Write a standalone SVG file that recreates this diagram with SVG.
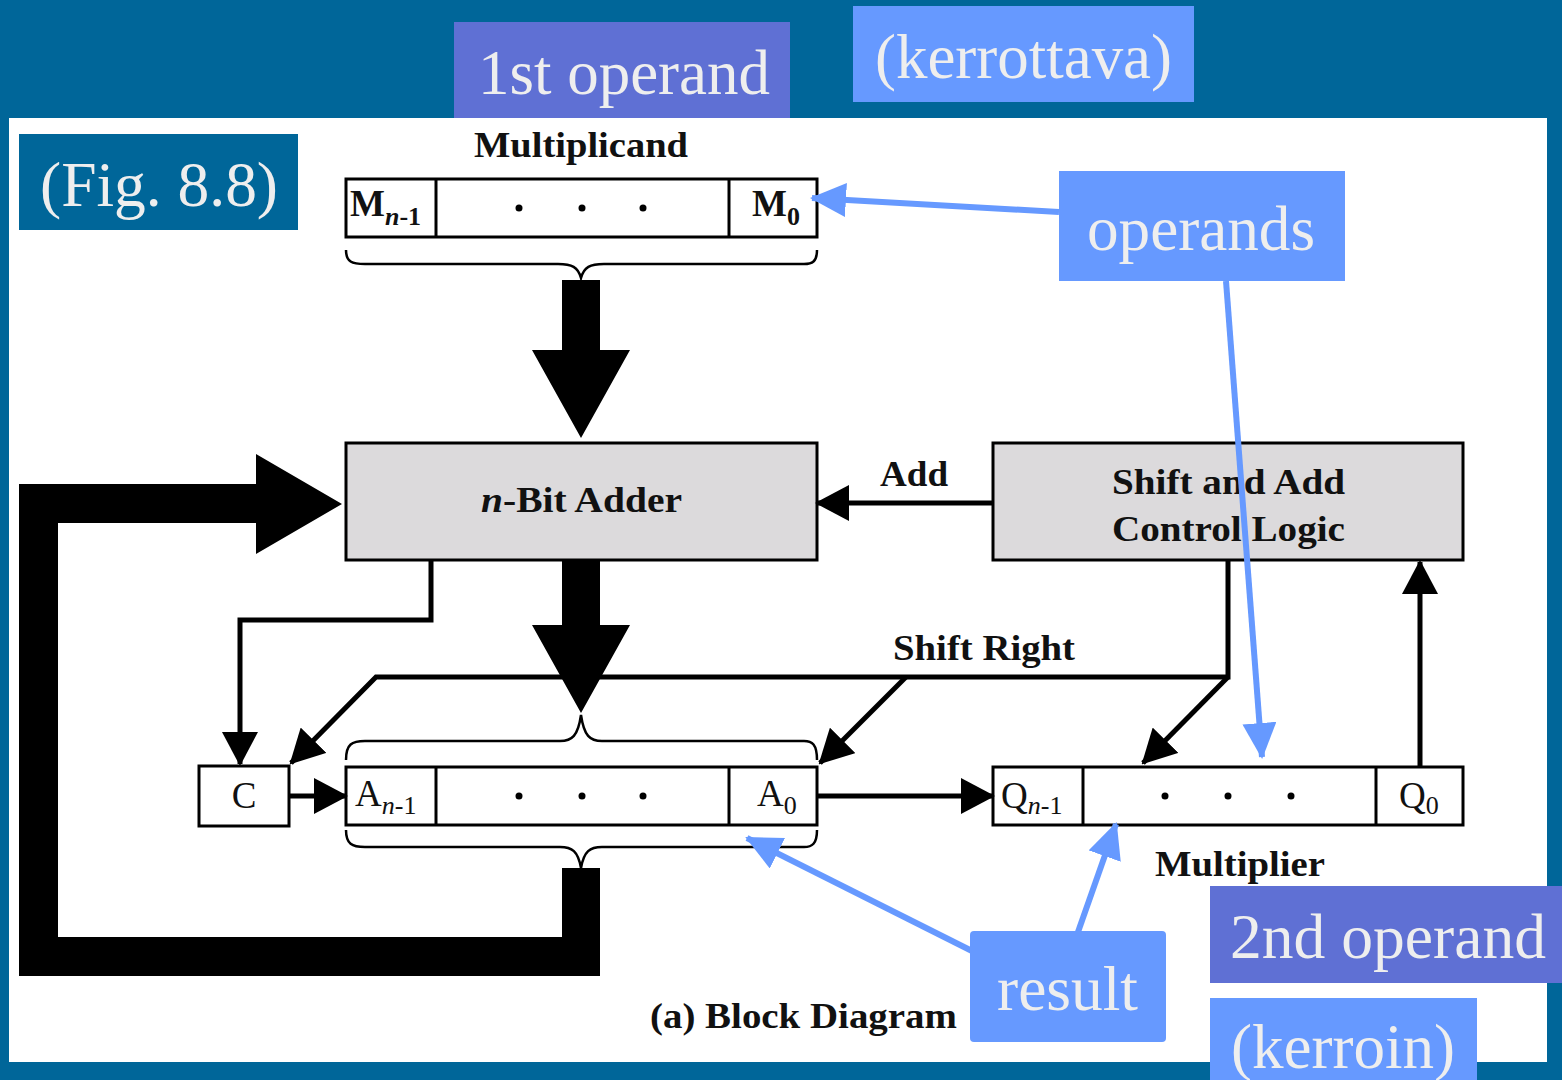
<svg xmlns="http://www.w3.org/2000/svg" width="1562" height="1080" viewBox="0 0 1562 1080">
<style>
.reg{fill:#fff;stroke:#000;stroke-width:3}
.blk{fill:#dcdadc;stroke:#000;stroke-width:3}
.dv{stroke:#000;stroke-width:3}
.br{fill:none;stroke:#000;stroke-width:2.5}
.con{fill:none;stroke:#000;stroke-width:5}
.ann{fill:none;stroke:#6699ff;stroke-width:6}
.lbl{font-family:"Liberation Serif","Times New Roman",serif;font-weight:bold;font-size:36px;fill:#111}
.rt{font-family:"Liberation Serif","Times New Roman",serif;font-size:37px;fill:#111}
.sub{font-size:26px}
.big{font-family:"Liberation Serif","Times New Roman",serif;font-size:63px;fill:#eeeeee}
.dot{fill:#000}
</style>
<defs>
<marker id="ah" markerUnits="userSpaceOnUse" markerWidth="34" markerHeight="36" viewBox="0 0 34 36" refX="32" refY="18" orient="auto">
<path d="M0,0 L34,18 L0,36 z" fill="#000"/>
</marker>
<marker id="bh" markerUnits="userSpaceOnUse" markerWidth="36" markerHeight="34" viewBox="0 0 36 34" refX="34" refY="17" orient="auto">
<path d="M0,0 L36,17 L0,34 z" fill="#6699ff"/>
</marker>
</defs>
<rect x="0" y="0" width="1562" height="1080" fill="#006699"/>
<rect x="9" y="118" width="1538" height="944" fill="#ffffff"/>

<g id="multiplicand">
<text class="lbl" x="474" y="157" textLength="214" lengthAdjust="spacingAndGlyphs">Multiplicand</text>
<rect class="reg" x="346" y="179" width="471" height="58"/>
<line class="dv" x1="436" y1="179" x2="436" y2="237"/>
<line class="dv" x1="729" y1="179" x2="729" y2="237"/>
<text class="rt" x="350" y="216" font-weight="bold">M<tspan class="sub" font-style="italic" dy="9">n</tspan><tspan class="sub" font-weight="bold">-1</tspan></text>
<text class="rt" x="752" y="216" font-weight="bold">M<tspan class="sub" dy="9">0</tspan></text>
<circle class="dot" cx="519" cy="208" r="3.5"/>
<circle class="dot" cx="582" cy="208" r="3.5"/>
<circle class="dot" cx="643" cy="208" r="3.5"/>
<path class="br" d="M346,250 C346,262 352,264 365,264 L558,264 C572,264 578,267 581,278 C584,267 590,264 604,264 L804,264 C812,264 817,262 817,250"/>
</g>

<g id="adder">
<rect class="blk" x="346" y="443" width="471" height="117"/>
<text class="lbl" x="481" y="512" textLength="201" lengthAdjust="spacingAndGlyphs"><tspan font-style="italic">n</tspan>-Bit Adder</text>
</g>

<g id="control">
<rect class="blk" x="993" y="443" width="470" height="117"/>
<text class="lbl" x="1112" y="494" textLength="233" lengthAdjust="spacingAndGlyphs">Shift and Add</text>
<text class="lbl" x="1112" y="541" textLength="233" lengthAdjust="spacingAndGlyphs">Control Logic</text>
</g>

<g id="carry">
<rect class="reg" x="199" y="766" width="90" height="60"/>
<text class="rt" x="244" y="808" text-anchor="middle">C</text>
</g>

<g id="accumulator">
<rect class="reg" x="346" y="767" width="471" height="58"/>
<line class="dv" x1="436" y1="767" x2="436" y2="825"/>
<line class="dv" x1="729" y1="767" x2="729" y2="825"/>
<text class="rt" x="355" y="806">A<tspan class="sub" font-style="italic" dy="8">n</tspan><tspan class="sub">-1</tspan></text>
<text class="rt" x="757" y="806">A<tspan class="sub" dy="8">0</tspan></text>
<circle class="dot" cx="519" cy="796" r="3.5"/>
<circle class="dot" cx="582" cy="796" r="3.5"/>
<circle class="dot" cx="643" cy="796" r="3.5"/>
<path class="br" d="M346,760 C346,744 352,741 365,741 L560,741 C572,741 578,736 581,715 C584,736 590,741 602,741 L804,741 C812,741 817,744 817,760"/>
<path class="br" d="M346,830 C346,844 352,847 365,847 L560,847 C572,847 578,851 581,868 C584,851 590,847 602,847 L804,847 C812,847 817,844 817,830"/>
</g>

<g id="multiplier">
<rect class="reg" x="993" y="767" width="470" height="58"/>
<line class="dv" x1="1083" y1="767" x2="1083" y2="825"/>
<line class="dv" x1="1376" y1="767" x2="1376" y2="825"/>
<text class="rt" x="1001" y="808">Q<tspan class="sub" font-style="italic" dy="6">n</tspan><tspan class="sub">-1</tspan></text>
<text class="rt" x="1399" y="808">Q<tspan class="sub" dy="6">0</tspan></text>
<circle class="dot" cx="1165" cy="796" r="3.5"/>
<circle class="dot" cx="1228" cy="796" r="3.5"/>
<circle class="dot" cx="1291" cy="796" r="3.5"/>
<text class="lbl" x="1155" y="876" textLength="170" lengthAdjust="spacingAndGlyphs">Multiplier</text>
</g>

<g id="connectors">
<polygon points="562,280 600,280 600,350 630,350 581,438 532,350 562,350" fill="#000"/>
<polygon points="562,560 600,560 600,625 630,625 581,713 532,625 562,625" fill="#000"/>
<polygon points="562,868 600,868 600,976 19,976 19,484 256,484 256,454 342,504 256,554 256,523 58,523 58,937 562,937" fill="#000"/>
<line class="con" x1="993" y1="503" x2="817" y2="503" marker-end="url(#ah)"/>
<text class="lbl" x="880" y="486" textLength="68" lengthAdjust="spacingAndGlyphs">Add</text>
<polyline class="con" points="431,560 431,620 240,620 240,764" marker-end="url(#ah)"/>
<polyline class="con" points="1228,560 1228,677 376,677 291,763" marker-end="url(#ah)"/>
<line class="con" x1="906" y1="677" x2="820" y2="763" marker-end="url(#ah)"/>
<line class="con" x1="1228" y1="677" x2="1143" y2="763" marker-end="url(#ah)"/>
<text class="lbl" x="893" y="660" textLength="182" lengthAdjust="spacingAndGlyphs">Shift Right</text>
<line class="con" x1="1420" y1="767" x2="1420" y2="562" marker-end="url(#ah)"/>
<line class="con" x1="289" y1="796" x2="346" y2="796" marker-end="url(#ah)"/>
<line class="con" x1="817" y1="796" x2="993" y2="796" marker-end="url(#ah)"/>
<line class="ann" x1="1059" y1="212" x2="812" y2="198" marker-end="url(#bh)"/>
<line class="ann" x1="1226" y1="281" x2="1262" y2="757" marker-end="url(#bh)"/>
<line class="ann" x1="972" y1="951" x2="747" y2="838" marker-end="url(#bh)"/>
<line class="ann" x1="1078" y1="932" x2="1116" y2="824" marker-end="url(#bh)"/>
</g>

<text id="caption" class="lbl" x="650" y="1028" textLength="307" lengthAdjust="spacingAndGlyphs">(a) Block Diagram</text>

<g id="first-operand">
<rect x="454" y="22" width="336" height="96" fill="#5f70d4"/>
<text class="big" x="478" y="94" textLength="292" lengthAdjust="spacingAndGlyphs">1st operand</text>
</g>
<g id="kerrottava">
<rect x="853" y="6" width="341" height="96" fill="#6699ff"/>
<text class="big" x="875" y="78" textLength="297" lengthAdjust="spacingAndGlyphs">(kerrottava)</text>
</g>
<g id="fig">
<rect x="19" y="134" width="279" height="96" fill="#006699"/>
<text class="big" x="40" y="206" textLength="238" lengthAdjust="spacingAndGlyphs">(Fig. 8.8)</text>
</g>
<g id="operands">
<rect x="1059" y="171" width="286" height="110" fill="#6699ff"/>
<text class="big" x="1087" y="250" textLength="228" lengthAdjust="spacingAndGlyphs">operands</text>
</g>
<g id="result">
<rect x="970" y="931" width="196" height="111" rx="4" fill="#6699ff"/>
<text class="big" x="997" y="1010" textLength="141" lengthAdjust="spacingAndGlyphs">result</text>
</g>
<g id="second-operand">
<rect x="1210" y="886" width="352" height="97" fill="#5f70d4"/>
<text class="big" x="1230" y="958" textLength="316" lengthAdjust="spacingAndGlyphs">2nd operand</text>
</g>
<g id="kerroin">
<rect x="1210" y="998" width="267" height="82" fill="#6699ff"/>
<text class="big" x="1231" y="1068" textLength="224" lengthAdjust="spacingAndGlyphs">(kerroin)</text>
</g>
</svg>
